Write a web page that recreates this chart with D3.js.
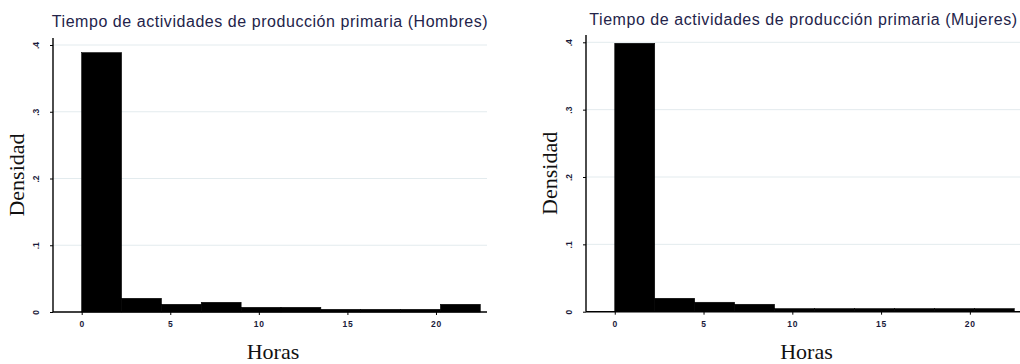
<!DOCTYPE html>
<html>
<head>
<meta charset="utf-8">
<script src="https://cdn.jsdelivr.net/npm/d3@7"></script>
<style>
  html, body { margin: 0; padding: 0; background: #fff; }
  svg { display: block; }
</style>
</head>
<body>
<svg id="chart" width="1020" height="364"></svg>
<script>
// Histogram bins (hours), shared by both panels
const binEdges = [0, 2.25, 4.5, 6.75, 9, 11.25, 13.5, 15.75, 18, 20.25, 22.5];

// Density per bin
const hombresDensity = [0.3885, 0.0205, 0.0115, 0.0145, 0.007, 0.007, 0.004, 0.004, 0.004, 0.0115];
const mujeresDensity = [0.3985, 0.0199, 0.014, 0.011, 0.0045, 0.0045, 0.0045, 0.0045, 0.0045, 0.0045];

const titles = [
  "Tiempo de actividades de producción primaria (Hombres)",
  "Tiempo de actividades de producción primaria (Mujeres)"
];

const xTicks = [0, 5, 10, 15, 20];
const yTicks = [0, 0.1, 0.2, 0.3, 0.4];
const yTickLabels = ["0", ".1", ".2", ".3", ".4"];

const xLabel = "Horas";
const yLabel = "Densidad";

const panels = [
  { title: titles[0], values: hombresDensity, x0: 53, x1: 487, yBase: 312, yTop: 45, axisTop: 38, titleY: 27 },
  { title: titles[1], values: mujeresDensity, x0: 586, x1: 1021, yBase: 311.7, yTop: 42.3, axisTop: 35, titleY: 25 }
];

const svg = d3.select("#chart");

panels.forEach(p => {
  const g = svg.append("g");

  const x = d3.scaleLinear().domain([-1.62, 22.88]).range([p.x0, p.x1]);
  const y = d3.scaleLinear().domain([0, 0.4]).range([p.yBase, p.yTop]);

  // gridlines
  g.append("g")
    .selectAll("line")
    .data(yTicks.filter(d => d > 0))
    .join("line")
    .attr("x1", p.x0)
    .attr("x2", p.x1)
    .attr("y1", d => y(d))
    .attr("y2", d => y(d))
    .attr("stroke", "#e3ebee")
    .attr("stroke-width", 1);

  // bars
  const bins = p.values.map((v, i) => ({ lo: binEdges[i], hi: binEdges[i + 1], v }));
  g.append("g")
    .selectAll("rect")
    .data(bins)
    .join("rect")
    .attr("x", d => x(d.lo))
    .attr("width", d => x(d.hi) - x(d.lo))
    .attr("y", d => y(d.v))
    .attr("height", d => y(0) - y(d.v))
    .attr("fill", "#000")
    .attr("stroke", "#000")
    .attr("stroke-width", 0.6);

  // x axis
  const xAxis = d3.axisBottom(x).tickValues(xTicks).tickSize(3).tickFormat(d3.format("d"));
  const gx = g.append("g")
    .attr("transform", `translate(0,${p.yBase})`)
    .call(xAxis);
  gx.select(".domain").attr("d", `M${p.x0},0H${p.x1}`).attr("stroke", "#000").attr("stroke-width", 1.4);
  gx.selectAll(".tick line").attr("stroke", "#000").attr("stroke-width", 1);
  gx.selectAll(".tick text")
    .attr("y", 9)
    .attr("font-family", "Liberation Sans, Arial, sans-serif")
    .attr("font-size", 8.5)
    .attr("font-weight", "bold")
    .attr("letter-spacing", 0.8)
    .attr("fill", "#1a1a3a");

  // y axis
  const yAxis = d3.axisLeft(y).tickValues(yTicks).tickSize(3).tickFormat((d, i) => yTickLabels[i]);
  const gy = g.append("g")
    .attr("transform", `translate(${p.x0},0)`)
    .call(yAxis);
  gy.select(".domain").attr("d", `M0,${p.axisTop}V${p.yBase}`).attr("stroke", "#000").attr("stroke-width", 1.4);
  gy.selectAll(".tick line").attr("stroke", "#000").attr("stroke-width", 1);
  gy.selectAll(".tick text")
    .attr("x", null)
    .attr("dy", null)
    .attr("text-anchor", "middle")
    .attr("transform", "translate(-17,0) rotate(-90)")
    .attr("dominant-baseline", "central")
    .attr("font-family", "Liberation Sans, Arial, sans-serif")
    .attr("font-size", 8.5)
    .attr("font-weight", "bold")
    .attr("fill", "#1a1a3a");

  // titles
  g.append("text")
    .attr("x", (p.x0 + p.x1) / 2)
    .attr("y", p.titleY)
    .attr("text-anchor", "middle")
    .attr("font-family", "Liberation Sans, Arial, sans-serif")
    .attr("font-size", 16)
    .attr("letter-spacing", 0.55)
    .attr("fill", "#24244a")
    .text(p.title);

  g.append("text")
    .attr("x", x(10.8))
    .attr("y", p.yBase + 47)
    .attr("text-anchor", "middle")
    .attr("font-family", "Liberation Serif, Times New Roman, serif")
    .attr("font-size", 22)
    .attr("fill", "#111")
    .text(xLabel);

  g.append("text")
    .attr("transform", `translate(${p.x0 - 29},${(p.yBase + p.axisTop) / 2}) rotate(-90)`)
    .attr("text-anchor", "middle")
    .attr("font-family", "Liberation Serif, Times New Roman, serif")
    .attr("font-size", 22)
    .attr("fill", "#111")
    .text(yLabel);
});
</script>
</body>
</html>
